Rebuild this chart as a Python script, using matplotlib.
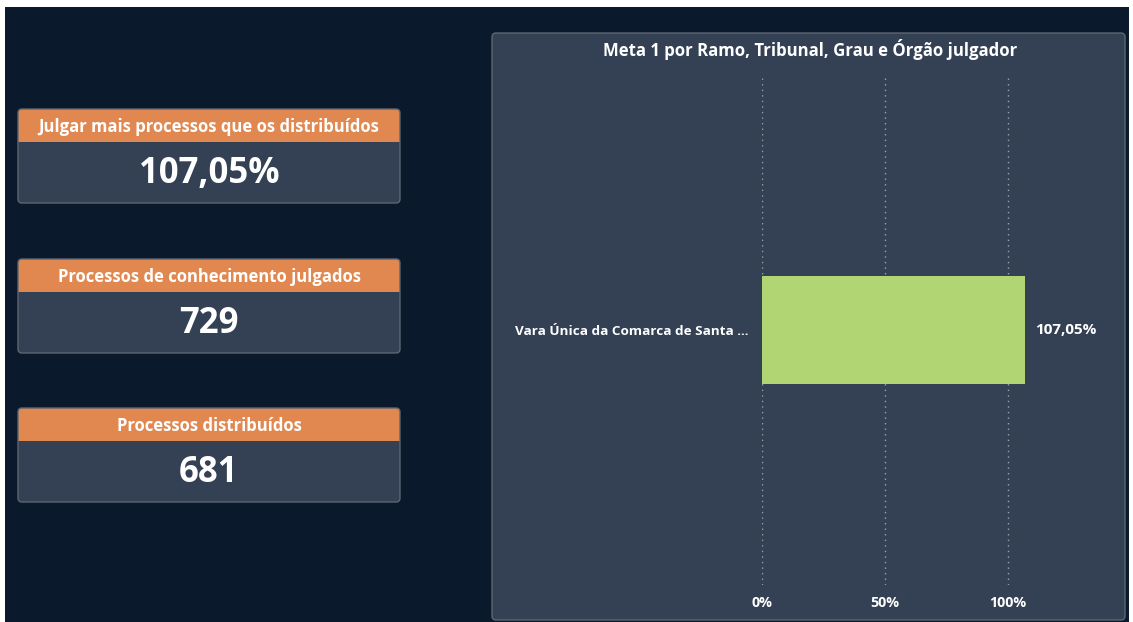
import matplotlib
matplotlib.use('Agg')
import matplotlib.pyplot as plt
from matplotlib.patches import FancyBboxPatch, Rectangle

# KPI cards
card_titles = ['Julgar mais processos que os distribuídos',
               'Processos de conhecimento julgados',
               'Processos distribuídos']
card_values = ['107,05%', '729', '681']

# bar chart
chart_title = 'Meta 1 por Ramo, Tribunal, Grau e Órgão julgador'
categories = ['Vara Única da Comarca de Santa ...']
values = [107.05]
x_ticks = [0, 50, 100]
x_tick_labels = ['0%', '50%', '100%']

BG = '#0A192B'
CARD = '#344154'
ORANGE = '#E08850'
EDGE = '#5D6672'
GREEN = '#B0D572'
W, H = 1133, 622

plt.rcParams['font.family'] = ['Open Sans', 'DejaVu Sans']

fig = plt.figure(figsize=(W / 100, H / 100), dpi=100, facecolor='white')
bg = fig.add_axes([0, 0, 1, 1])
bg.set_xlim(0, W)
bg.set_ylim(H, 0)
bg.axis('off')

bg.add_patch(Rectangle((5, 7), 1124, 616, facecolor=BG, edgecolor='none'))


def rounded(x, y, w, h, **kw):
    return FancyBboxPatch((x, y), w, h, boxstyle='round,pad=0,rounding_size=4', **kw)


# cards
card_tops = [109, 259, 408]
for top, title, val in zip(card_tops, card_titles, card_values):
    x0, w, h, hh = 18, 382, 94, 33
    bg.add_patch(rounded(x0, top, w, h, facecolor=CARD, edgecolor='none'))
    bg.add_patch(rounded(x0, top, w, hh, facecolor=ORANGE, edgecolor='none'))
    bg.add_patch(Rectangle((x0, top + hh - 6), w, 6, facecolor=ORANGE, edgecolor='none'))
    bg.add_patch(rounded(x0, top, w, h, facecolor='none', edgecolor=EDGE, lw=1))
    bg.text(x0 + w / 2, top + hh / 2 + 1.5, title, color='white', fontsize=12,
            fontweight='bold', ha='center', va='center')
    bg.text(x0 + w / 2, top + hh + (h - hh) / 2 + 1.5, val, color='white', fontsize=25,
            fontweight='bold', ha='center', va='center')

# chart panel
bg.add_patch(rounded(492, 33, 633, 587, facecolor=CARD, edgecolor=EDGE, lw=1))
bg.text(810, 50, chart_title, color='white', fontsize=12.1, fontweight='bold',
        ha='center', va='center')

ax = fig.add_axes([762 / W, (H - 585) / H, 344.4 / W, 510 / H])
ax.set_facecolor('none')
for s in ax.spines.values():
    s.set_visible(False)
ax.barh(range(len(categories)), values, height=0.21, color=GREEN, zorder=3)
ax.set_xlim(0, 140)
ax.set_ylim(-0.5, 0.5)
ax.set_xticks(x_ticks)
ax.set_xticklabels(x_tick_labels)
ax.set_yticks(range(len(categories)))
ax.set_yticklabels(categories)
ax.tick_params(axis='x', length=0, colors='white', labelsize=10.3, pad=8)
ax.tick_params(axis='y', length=0, colors='white', labelsize=9.7, pad=10)
for lab in ax.get_xticklabels() + ax.get_yticklabels():
    lab.set_fontweight('bold')
ax.xaxis.grid(True, color='#9AA3AD', linestyle=(0, (1, 3)), lw=1, zorder=0)
for i, v in enumerate(values):
    ax.annotate(f'{v:.2f}'.replace('.', ',') + '%', (v, i), xytext=(7, 0),
                textcoords='offset points', color='white', fontsize=11,
                fontweight='bold', va='center', ha='left')

fig.savefig('out.png', dpi=100, facecolor=fig.get_facecolor())
